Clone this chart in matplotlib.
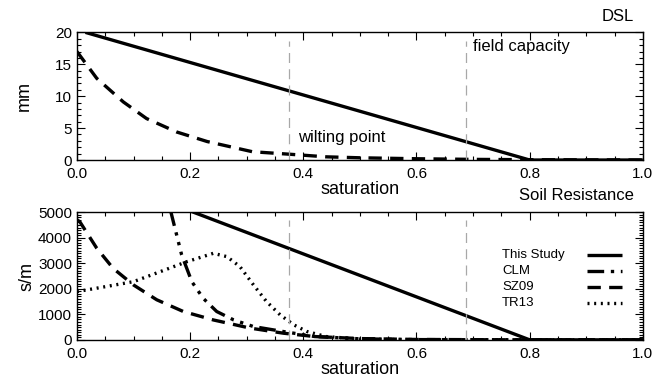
import matplotlib
matplotlib.use("Agg")
import matplotlib.pyplot as plt
from matplotlib.ticker import MultipleLocator

plt.rcParams['font.family'] = ['Liberation Sans', 'DejaVu Sans']

# --- top panel (DSL, mm) ---
sat_ts_top = [0.015, 0.8, 1.0]
dsl_ts = [20.0, 0.0, 0.0]
sat_sz_top = [0.0, 0.035, 0.082, 0.123, 0.176, 0.23, 0.31, 0.377, 0.44, 0.5, 0.6, 0.7, 0.8, 1.0]
dsl_sz = [17.0, 12.8, 9.1, 6.5, 4.4, 2.9, 1.3, 0.9, 0.5, 0.35, 0.2, 0.1, 0.05, 0.0]

# --- bottom panel (soil resistance, s/m) ---
sat_ts = [0.2, 0.8, 1.0]
rs_ts = [5050, 0, 0]
sat_clm = [0.165, 0.185, 0.203, 0.223, 0.247, 0.277, 0.312, 0.365, 0.42, 0.5, 0.6, 0.8, 1.0]
rs_clm = [5100, 3330, 2280, 1630, 1110, 780, 520, 325, 130, 40, 10, 0, 0]
sat_sz = [0.0, 0.005, 0.035, 0.064, 0.1, 0.141, 0.188, 0.241, 0.306, 0.365, 0.42, 0.5, 0.6, 0.8, 1.0]
rs_sz = [4700, 4630, 3590, 2800, 2150, 1570, 1110, 780, 460, 260, 130, 50, 15, 0, 0]
sat_tr = [0.0, 0.052, 0.1, 0.147, 0.194, 0.241, 0.265, 0.288, 0.312, 0.335, 0.359,
          0.383, 0.406, 0.44, 0.5, 0.6, 0.8, 1.0]
rs_tr = [1890, 2090, 2280, 2670, 3060, 3390, 3260, 2870, 2150, 1500, 980,
         590, 330, 130, 30, 5, 0, 0]

labels = ['This Study', 'CLM', 'SZ09', 'TR13']

wilting = 0.375
field_cap = 0.688

fig = plt.figure(figsize=(6.52, 3.81), dpi=100)
ax1 = fig.add_axes([0.118, 0.580, 0.868, 0.335])
ax2 = fig.add_axes([0.118, 0.108, 0.868, 0.335])

lw = 2.4
gray = '#a8a8a8'
ls_solid = '-'
ls_clm = (0, (5, 2, 1, 2, 1, 2, 1, 2))
ls_sz = (0, (4, 2.5))
ls_tr = (0, (0.6, 1.4))

def style(ax):
    ax.set_xlim(0, 1)
    ax.xaxis.set_major_locator(MultipleLocator(0.2))
    ax.xaxis.set_minor_locator(MultipleLocator(0.05))
    ax.tick_params(which='both', direction='in', top=True, right=True, labelsize=11)
    ax.tick_params(which='major', length=6, width=0.8)
    ax.tick_params(which='minor', length=3, width=0.8)
    ax.tick_params(axis='x', pad=5)
    for sp in ax.spines.values():
        sp.set_linewidth(1.0)

# top
ax1.plot(sat_ts_top, dsl_ts, color='black', lw=lw, solid_capstyle='butt')
ax1.plot(sat_sz_top, dsl_sz, color='black', lw=lw, ls=ls_sz)
ax1.plot([wilting, wilting], [0, 18.7], color=gray, lw=0.9, ls=(0, (8, 5)))
ax1.plot([field_cap, field_cap], [0, 18.7], color=gray, lw=0.9, ls=(0, (8, 5)))
ax1.text(0.39, 3.6, 'wilting point', fontsize=12, ha='left', va='center')
ax1.text(0.70, 17.8, 'field capacity', fontsize=12, ha='left', va='center')
ax1.set_ylim(0, 20)
ax1.yaxis.set_major_locator(MultipleLocator(5))
ax1.yaxis.set_minor_locator(MultipleLocator(1))
style(ax1)
ax1.set_ylabel('mm', fontsize=13, labelpad=16)
ax1.set_xlabel('saturation', fontsize=13, labelpad=0)
fig.text(0.972, 0.958, 'DSL', fontsize=12, ha='right', va='center')

# bottom
styles = [ls_solid, ls_clm, ls_sz, ls_tr]
xs = [sat_ts, sat_clm, sat_sz, sat_tr]
ys = [rs_ts, rs_clm, rs_sz, rs_tr]
for x, y, ls in zip(xs, ys, styles):
    ax2.plot(x, y, color='black', lw=lw, ls=ls, solid_capstyle='butt')
ax2.plot([wilting, wilting], [0, 4700], color=gray, lw=0.9, ls=(0, (8, 5)))
ax2.plot([field_cap, field_cap], [0, 4700], color=gray, lw=0.9, ls=(0, (8, 5)))
ax2.set_ylim(0, 5000)
ax2.yaxis.set_major_locator(MultipleLocator(1000))
ax2.yaxis.set_minor_locator(MultipleLocator(100))
style(ax2)
ax2.set_ylabel('s/m', fontsize=13, labelpad=2)
ax2.set_xlabel('saturation', fontsize=13, labelpad=0)
fig.text(0.972, 0.488, 'Soil Resistance', fontsize=12, ha='right', va='center')

# legend: labels left, line samples right
row_y = 0.666
for lab, ls in zip(labels, styles):
    ax2.text(0.751, row_y, lab, transform=ax2.transAxes, fontsize=9.5,
             ha='left', va='center')
    ax2.plot([0.902, 0.963], [row_y, row_y], transform=ax2.transAxes,
             color='black', lw=lw, ls=ls, solid_capstyle='butt')
    row_y -= 0.125

fig.savefig('out.png', dpi=100)
